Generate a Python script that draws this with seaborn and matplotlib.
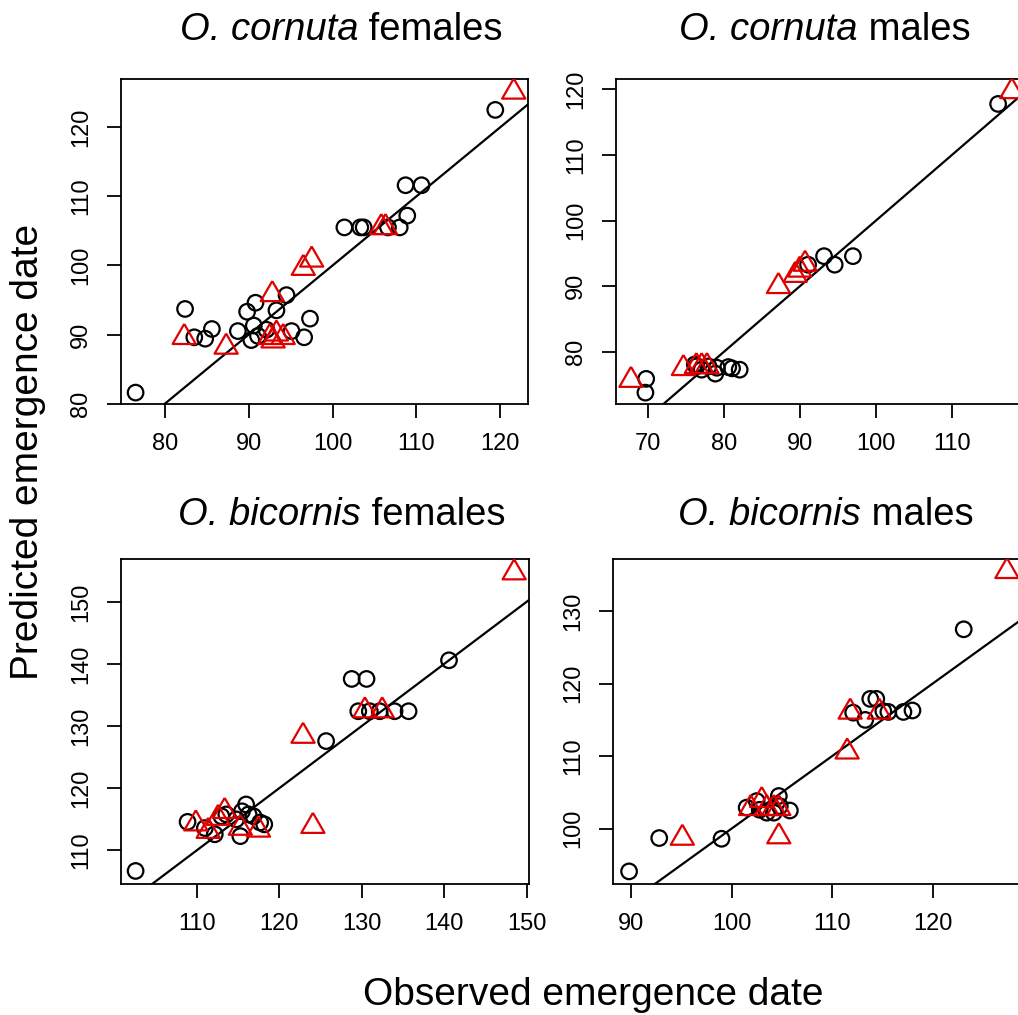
import numpy as np
import pandas as pd
import matplotlib
matplotlib.use("Agg")
import matplotlib.pyplot as plt
import seaborn as sns

# ---- O. cornuta females ----
cf_obs_o = [76.5, 82.4, 83.5, 84.8, 85.6, 88.7, 89.8, 90.8, 90.3, 90.6, 91.1, 92.1,
            93.3, 94.5, 95.1, 96.6, 97.3, 101.4, 103.3, 103.7, 106.6, 108.0, 108.9,
            108.7, 110.6, 119.4]
cf_pred_o = [81.6, 93.7, 89.6, 89.4, 90.8, 90.5, 93.3, 94.6, 89.2, 91.3, 89.8, 90.7,
             93.5, 95.7, 90.5, 89.6, 92.3, 105.5, 105.5, 105.5, 105.5, 105.5, 107.2,
             111.6, 111.6, 122.5]
cf_obs_t = [82.3, 87.3, 92.8, 96.5, 97.5, 92.5, 92.9, 93.3, 94.1, 105.8, 106.3, 121.6]
cf_pred_t = [89.6, 88.2, 95.8, 99.6, 100.8, 89.6, 89.1, 90.1, 89.6, 105.5, 105.5, 125.1]

# ---- O. cornuta males ----
cm_obs_o = [69.8, 69.7, 76.4, 76.2, 77.1, 78.0, 78.9, 79.1, 80.6, 81.1, 82.1, 91.1,
            93.2, 94.6, 97.0, 116.1]
cm_pred_o = [75.9, 73.8, 77.8, 78.1, 77.3, 77.8, 76.7, 77.6, 77.7, 77.5, 77.3, 93.3,
             94.6, 93.3, 94.6, 117.8]
cm_obs_t = [67.8, 74.7, 76.4, 77.1, 77.8, 87.2, 89.4, 90.0, 90.7, 117.9]
cm_pred_t = [75.7, 77.5, 77.8, 77.8, 77.8, 90.0, 91.7, 92.5, 93.4, 119.7]

# ---- O. bicornis females ----
bf_obs_o = [102.6, 108.9, 111.0, 112.2, 113.0, 113.6, 114.8, 115.5, 116.0, 116.3,
            116.9, 115.3, 117.7, 118.2, 125.7, 128.8, 130.6, 129.6, 131.0, 132.2,
            134.0, 135.7, 140.6]
bf_pred_o = [106.7, 114.6, 113.6, 112.6, 115.5, 115.8, 115.0, 116.3, 117.4, 115.8,
             115.5, 112.3, 114.5, 114.2, 127.6, 137.6, 137.6, 132.4, 132.4, 132.4,
             132.4, 132.4, 140.6]
bf_obs_t = [109.9, 111.4, 112.6, 113.4, 115.3, 117.5, 122.9, 124.1, 130.4, 132.5, 148.5]
bf_pred_t = [114.3, 113.1, 115.2, 116.3, 113.6, 113.3, 128.4, 113.9, 132.5, 132.5, 154.7]

# ---- O. bicornis males ----
bm_obs_o = [89.8, 92.8, 99.0, 101.5, 102.5, 102.8, 103.5, 104.2, 104.7, 104.8, 105.8,
            112.1, 113.3, 113.8, 114.4, 115.1, 115.6, 117.1, 118.0, 123.1]
bm_pred_o = [94.1, 98.7, 98.6, 102.9, 103.8, 102.6, 102.2, 102.2, 104.5, 103.1, 102.5,
             116.0, 115.0, 117.9, 117.9, 116.2, 116.1, 116.1, 116.3, 127.5]
bm_obs_t = [95.1, 101.9, 103.0, 103.5, 104.2, 104.7, 104.7, 111.8, 114.7, 111.5, 127.4]
bm_pred_t = [98.7, 102.8, 103.9, 102.8, 102.8, 102.8, 98.9, 116.1, 116.1, 110.6, 135.5]

species = ["O. cornuta", "O. cornuta", "O. bicornis", "O. bicornis"]
sexes = ["females", "males", "females", "males"]
xticks = [[80, 90, 100, 110, 120], [70, 80, 90, 100, 110],
          [110, 120, 130, 140, 150], [90, 100, 110, 120]]
yticks = [[80, 90, 100, 110, 120], [80, 90, 100, 110, 120],
          [110, 120, 130, 140, 150], [100, 110, 120, 130]]

panels = [
    (cf_obs_o, cf_pred_o, cf_obs_t, cf_pred_t),
    (cm_obs_o, cm_pred_o, cm_obs_t, cm_pred_t),
    (bf_obs_o, bf_pred_o, bf_obs_t, bf_pred_t),
    (bm_obs_o, bm_pred_o, bm_obs_t, bm_pred_t),
]

# axis ranges (data range padded as in base R plots)
xlims = [(74.76, 123.3), (65.83, 119.9), (100.83, 150.3), (88.2, 128.9)]
ylims = [(79.95, 126.97), (72.07, 121.6), (104.6, 156.9), (92.36, 137.2)]

sns.set_theme(style="white")
plt.rcParams["font.family"] = ["Liberation Sans", "DejaVu Sans"]

W, H = 1018, 1015
fig = plt.figure(figsize=(W / 100, H / 100), dpi=100)
renderer = fig.canvas.get_renderer()

# axes boxes in pixels: left, top, right, bottom
boxes = [(121, 79, 528, 404), (616, 79, 1027, 404),
         (121, 559, 529, 884), (613, 559, 1022, 884)]
title_pos = [(341, 40), (825, 40), (342, 525), (826, 525)]

red = "#e00000"
# equilateral triangle, centred on its centroid
tri = [(0, 0.577), (-0.5, -0.289), (0.5, -0.289), (0, 0.577)]


def mixed_title(cx, baseline, italic_part, plain_part, size):
    """Centre an italic + upright title at pixel position (cx, baseline)."""
    y = 1 - baseline / H
    t1 = fig.text(0, y, italic_part, fontstyle="italic", fontsize=size,
                  va="baseline", ha="left", color="black")
    t2 = fig.text(0, y, " " + plain_part, fontsize=size, va="baseline",
                  ha="left", color="black")
    w1 = t1.get_window_extent(renderer).width
    w2 = t2.get_window_extent(renderer).width
    x0 = cx - (w1 + w2) / 2
    t1.set_x(x0 / W)
    t2.set_x((x0 + w1) / W)


for i, (xo, yo, xt, yt) in enumerate(panels):
    l, t, r, b = boxes[i]
    ax = fig.add_axes([l / W, 1 - b / H, (r - l) / W, (b - t) / H])
    dfo = pd.DataFrame({"observed": xo, "predicted": yo})
    dft = pd.DataFrame({"observed": xt, "predicted": yt})
    ax.axline((100, 100), slope=1, color="black", lw=1.6, zorder=1)
    sns.scatterplot(data=dfo, x="observed", y="predicted", ax=ax, marker="o",
                    s=125, facecolor="none", edgecolor="black", linewidth=1.6,
                    zorder=3)
    sns.scatterplot(data=dft, x="observed", y="predicted", ax=ax, marker=tri,
                    s=370, facecolor="none", edgecolor=red, linewidth=1.6,
                    zorder=4)
    ax.set_xlim(*xlims[i])
    ax.set_ylim(*ylims[i])
    ax.set_xticks(xticks[i])
    ax.set_yticks(yticks[i])
    ax.set_xlabel("")
    ax.set_ylabel("")
    for s in ax.spines.values():
        s.set_color("black")
        s.set_linewidth(1.3)
    ax.tick_params(axis="both", direction="out", length=10, width=1.3,
                   color="black", labelsize=17, labelcolor="black",
                   bottom=True, left=True, pad=11)
    ax.tick_params(axis="y", labelrotation=90)
    for lab in ax.get_yticklabels():
        lab.set_va("center")
    tx, ty = title_pos[i]
    mixed_title(tx, ty, species[i], sexes[i], 27.5)

fig.text(593 / W, 1 - 1005 / H, "Observed emergence date", ha="center",
         va="baseline", fontsize=28, color="black")
fig.text(28 / W, 1 - 452 / H, "Predicted emergence date", ha="center",
         va="center", rotation=90, fontsize=28, color="black")

fig.savefig("out.png", dpi=100, facecolor="white")
